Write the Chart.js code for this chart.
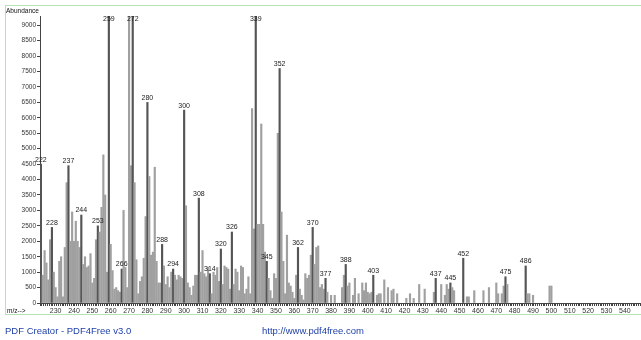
<!DOCTYPE html>
<html>
<head>
<meta charset="utf-8">
<script src="https://cdn.jsdelivr.net/npm/chart.js@4/dist/chart.umd.min.js"></script>
<style>
  body { margin: 0; background: #fff; }
  #wrap { width: 641px; height: 340px; position: relative; }
</style>
</head>
<body>
<div id="wrap"><canvas id="chart" width="641" height="340"></canvas></div>
<script>
// m/z values and their abundances
const mz = [222,223,224,225,226,227,228,229,230,231,232,233,234,235,236,237,238,239,240,241,242,243,244,245,246,247,248,249,250,251,252,253,254,255,256,257,258,259,260,261,262,263,264,265,266,267,268,269,270,271,272,273,274,275,276,277,278,279,280,281,282,283,284,285,286,287,288,289,290,291,292,293,294,295,296,297,298,299,300,301,302,303,304,305,306,307,308,309,310,311,312,313,314,315,316,317,318,319,320,321,322,323,324,325,326,327,328,329,330,331,332,333,334,335,336,337,338,339,340,341,342,343,344,345,346,347,348,349,350,351,352,353,354,355,356,357,358,359,360,361,362,363,364,365,366,367,368,369,370,371,372,373,374,375,376,377,378,380,382,386,387,388,389,390,392,393,395,397,398,399,400,401,402,403,405,406,407,409,411,413,414,416,421,423,425,428,431,436,437,440,442,443,444,445,446,447,452,454,455,458,463,466,470,471,473,474,475,476,486,487,488,490,499,500];
const abundance = [4500,900,1700,1300,750,2050,2450,1000,500,200,1350,1500,200,1800,3900,4450,2000,2950,2000,2650,2000,1800,2850,1250,1500,1150,1200,1600,650,800,2050,2500,2300,3100,4800,3500,1000,9300,1900,1050,450,500,400,350,1100,3000,1150,500,9300,4450,9300,3900,1400,300,700,850,1450,2800,6500,4100,1550,1650,4400,1350,650,650,1900,1200,600,850,500,1000,1100,900,750,900,850,800,6250,3150,650,500,250,550,900,900,3400,1000,1700,950,850,1150,950,300,1000,900,1150,700,1750,600,1200,1150,1100,450,2300,600,1100,1000,400,1200,1150,300,450,850,300,6300,2400,9300,2550,2550,5800,2550,1650,1350,800,400,150,950,800,5500,7600,2950,1350,300,2200,650,550,350,150,900,1800,450,250,100,950,800,900,1550,2450,1250,1800,1850,500,600,450,800,350,250,250,500,900,1250,550,650,250,800,300,650,400,650,350,300,350,900,250,300,300,750,500,400,450,300,150,300,150,600,450,350,800,600,250,600,450,650,500,400,1450,200,200,400,400,500,650,300,300,550,850,600,1200,300,300,250,550,550];
// peaks that carry an m/z annotation
const labeledPeaks = [222,228,237,244,253,259,266,272,280,288,294,300,308,314,320,326,339,345,352,362,370,377,388,403,437,445,452,475,486];
const yTicks = [0,500,1000,1500,2000,2500,3000,3500,4000,4500,5000,5500,6000,6500,7000,7500,8000,8500,9000];

const points = mz.map((m, i) => ({x: m, y: abundance[i]}));
const colors = mz.map(m => labeledPeaks.includes(m) ? '#555' : '#a0a0a0');

const decor = {
  id: 'decor',
  beforeDraw(chart) {
    const ctx = chart.ctx;
    ctx.save();
    ctx.fillStyle = '#fff';
    ctx.fillRect(0, 0, chart.width, chart.height);
    ctx.strokeStyle = '#b5e3b5';
    ctx.lineWidth = 1;
    ctx.strokeRect(5.5, 5.5, 640, 309);
    ctx.restore();
  },
  afterDraw(chart) {
    const ctx = chart.ctx;
    const meta = chart.getDatasetMeta(0);
    const top = chart.chartArea.top;
    ctx.save();
    ctx.fillStyle = '#222';
    ctx.font = '7px "Liberation Sans", Arial, sans-serif';
    ctx.textAlign = 'center';
    ctx.textBaseline = 'bottom';
    labeledPeaks.forEach(m => {
      const i = mz.indexOf(m);
      if (i < 0) return;
      const bar = meta.data[i];
      const y = Math.max(bar.y - 1, top + 7);
      ctx.fillText(String(m), bar.x, y);
    });
    ctx.textAlign = 'left';
    ctx.textBaseline = 'middle';
    ctx.font = '6.5px "Liberation Sans", Arial, sans-serif';
    ctx.fillStyle = '#111';
    ctx.fillText('Abundance', 6, 11);
    ctx.fillText('m/z-->', 7, 311);
    ctx.fillStyle = '#1f3fa6';
    ctx.font = '9.5px "Liberation Sans", Arial, sans-serif';
    ctx.fillText('PDF Creator - PDF4Free v3.0', 5, 331);
    ctx.fillText('http://www.pdf4free.com', 262, 331);
    ctx.restore();
  }
};

new Chart(document.getElementById('chart'), {
  type: 'bar',
  data: {
    datasets: [{
      data: points,
      backgroundColor: colors,
      barThickness: 1.5,
      borderWidth: 0
    }]
  },
  options: {
    responsive: false,
    animation: false,
    layout: { padding: { top: 16, bottom: 25, left: 0, right: 0 } },
    plugins: { legend: { display: false }, tooltip: { enabled: false } },
    scales: {
      x: {
        type: 'linear',
        min: 222,
        max: 548.3,
        afterFit: s => { s.height = 12; },
        grid: { drawOnChartArea: false, tickLength: 3, color: '#444' },
        border: { display: true, color: '#444' },
        ticks: {
          stepSize: 1,
          autoSkip: false,
          includeBounds: false,
          maxRotation: 0,
          minRotation: 0,
          padding: 1,
          color: '#333',
          font: { size: 7, family: '"Liberation Sans", Arial, sans-serif' },
          callback: v => {
            const r = Math.round(v);
            return (r % 10 === 0 && r >= 230 && r <= 540) ? String(r) : '';
          }
        }
      },
      y: {
        min: 0,
        max: 9300,
        afterFit: s => { s.width = 40; },
        afterBuildTicks: s => { s.ticks = yTicks.map(v => ({value: v})); },
        grid: { drawOnChartArea: false, tickLength: 3, color: '#444' },
        border: { display: true, color: '#444' },
        ticks: {
          padding: 1,
          color: '#333',
          font: { size: 6.5, family: '"Liberation Sans", Arial, sans-serif' },
          callback: v => String(v)
        }
      }
    }
  },
  plugins: [decor]
});
</script>
</body>
</html>
